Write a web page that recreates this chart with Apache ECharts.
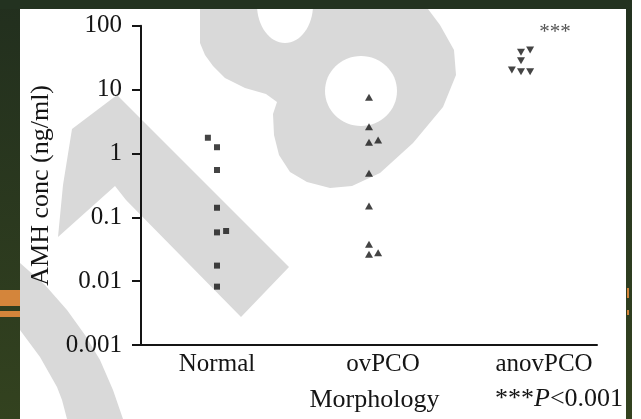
<!DOCTYPE html>
<html><head><meta charset="utf-8">
<script src="https://cdn.jsdelivr.net/npm/echarts@6/dist/echarts.min.js"></script>
<style>html,body{margin:0;padding:0;background:#ffffff}#c{width:641px;height:419px}</style>
</head><body><div id="c"></div>
<script>
// ---- data ----
const categories = ['Normal', 'ovPCO', 'anovPCO'];
const yTickLabels = ['0.001', '0.01', '0.1', '1', '10', '100'];
const normalValues = [1.76, 1.25, 0.55, 0.141, 0.058, 0.061, 0.0175, 0.0082];
const normalJitter = [-1, 0, 0, 0, 0, 1, 0, 0];
const ovpcoValues = [7.6, 2.62, 1.49, 1.62, 0.49, 0.150, 0.0378, 0.0263, 0.0279];
const ovpcoJitter = [0, 0, 0, 1, 0, 0, 0, 0, 1];
const anovpcoValues = [38.3, 41.6, 28.3, 20.2, 19.0, 19.0];
const anovpcoJitter = [0, 1, 0, -1, 0, 1];
const yAxisTitle = 'AMH conc (ng/ml)';
const xAxisTitle = 'Morphology';
const sigMark = '***';
const pNote = ['***', 'P', '<0.001'];

// ---- build ----
const JIT = 0.06;
function pts(catIdx, vals, jit) {
  return vals.map((v, i) => [catIdx + 0.5 + jit[i] * JIT, v]);
}
const serif = '"Liberation Serif", "Times New Roman", serif';
const ink = '#151515';
const wm = '#d9d9d9';

const chart = echarts.init(document.getElementById('c'), null, {renderer: 'canvas'});
chart.setOption({
  animation: false,
  backgroundColor: '#ffffff',
  grid: {left: 141, right: 44, top: 25.7, bottom: 74, containLabel: false, outerBoundsMode: 'none'},
  xAxis: {
    type: 'value', min: 0, max: 3, interval: 0.5,
    axisLine: {show: true, lineStyle: {color: ink, width: 2}},
    axisTick: {show: false},
    splitLine: {show: false},
    axisLabel: {
      margin: 7, showMinLabel: true, showMaxLabel: true,
      fontFamily: serif, fontSize: 25, color: ink,
      formatter: function (v) {
        const i = v - 0.5;
        if (Math.abs(i - Math.round(i)) > 1e-6 || i < 0 || i > 2) return '';
        const k = Math.round(i);
        return '{c' + k + '|' + categories[k] + '}';
      },
      rich: {
        c0: {fontFamily: serif, fontSize: 25, color: ink, padding: [0, 0, 0, 0]},
        c1: {fontFamily: serif, fontSize: 25, color: ink, padding: [0, 0, 0, 28]},
        c2: {fontFamily: serif, fontSize: 25, color: ink, padding: [0, 0, 0, 46]}
      }
    },
    name: xAxisTitle, nameLocation: 'middle', nameGap: 42,
    nameTextStyle: {fontFamily: serif, fontSize: 26, color: ink, padding: [0, 0, 0, 11]}
  },
  yAxis: {
    type: 'log', logBase: 10, min: 0.001, max: 100,
    axisLine: {show: true, lineStyle: {color: ink, width: 2}},
    axisTick: {show: true, inside: false, length: 9, lineStyle: {color: ink, width: 2}},
    splitLine: {show: false},
    minorTick: {show: false},
    axisLabel: {
      margin: 19, fontFamily: serif, fontSize: 25, color: ink,
      formatter: function (v) {
        const k = Math.round(Math.log10(v)) + 3;
        return yTickLabels[k] !== undefined ? yTickLabels[k] : '';
      }
    },
    name: yAxisTitle, nameLocation: 'middle', nameGap: 87, nameRotate: 90,
    nameTextStyle: {fontFamily: serif, fontSize: 26, color: ink}
  },
  series: [
    {type: 'scatter', data: pts(0, normalValues, normalJitter), symbol: 'rect', symbolSize: 6,
     itemStyle: {color: ink}, z: 5},
    {type: 'scatter', data: pts(1, ovpcoValues, ovpcoJitter), symbol: 'triangle', symbolSize: [8, 7],
     itemStyle: {color: ink}, z: 5},
    {type: 'scatter', data: pts(2, anovpcoValues, anovpcoJitter), symbol: 'triangle', symbolSize: [8, 7],
     symbolRotate: 180, itemStyle: {color: ink}, z: 5}
  ],
  graphic: [
    {type: 'rect', z: -30, shape: {x: 0, y: 0, width: 641, height: 419}, style: {fill: '#ffffff'}},
    // watermark "1"
    {type: 'polygon', z: -25, shape: {points: [[117, 95], [289, 267], [241, 317], [126, 200], [115, 186], [58, 237], [63, 185], [72, 129]]}, style: {fill: wm}},
    // watermark "8"
    {type: 'polygon', z: -25, shape: {points: [
      [200, 0], [200, 43], [205, 55], [213, 66], [225, 78], [245, 88], [266, 94], [277, 102],
      [273, 114], [274, 135], [279, 155], [290, 172], [307, 182], [330, 188], [352, 186],
      [380, 173], [413, 143], [443, 107], [456, 75], [454, 50], [440, 25], [425, 5], [415, 0]]},
     style: {fill: wm}},
    {type: 'ellipse', z: -24, shape: {cx: 285, cy: 5, rx: 28, ry: 38}, style: {fill: '#ffffff'}},
    {type: 'ellipse', z: -24, shape: {cx: 361, cy: 91, rx: 36, ry: 35}, style: {fill: '#ffffff'}},
    // lower-left arc
    {type: 'polygon', z: -25, shape: {points: [
      [10, 255], [20, 263], [45, 285], [67, 310], [85, 335], [100, 360], [113, 390], [123, 419],
      [67, 419], [62, 400], [57, 387], [40, 357], [20, 330], [10, 322]]}, style: {fill: wm}},
    // borders
    {type: 'rect', z: -20, shape: {x: 0, y: 0, width: 20, height: 419},
     style: {fill: {type: 'linear', x: 0, y: 0, x2: 0, y2: 1, colorStops: [{offset: 0, color: '#222f1e'}, {offset: 1, color: '#33421f'}]}}},
    {type: 'rect', z: -20, shape: {x: 0, y: 0, width: 632, height: 9}, style: {fill: '#233220'}},
    {type: 'rect', z: -20, shape: {x: 626, y: 0, width: 6, height: 419},
     style: {fill: {type: 'linear', x: 0, y: 0, x2: 0, y2: 1, colorStops: [{offset: 0, color: '#233220'}, {offset: 1, color: '#33421f'}]}}},
    {type: 'rect', z: -19, shape: {x: 0, y: 290, width: 20, height: 16}, style: {fill: '#d4853b'}},
    {type: 'rect', z: -19, shape: {x: 0, y: 311, width: 20, height: 6}, style: {fill: '#d4853b'}},
    {type: 'rect', z: -19, shape: {x: 627, y: 288, width: 2, height: 10}, style: {fill: '#d4853b'}},
    {type: 'rect', z: -19, shape: {x: 627, y: 310, width: 2, height: 5}, style: {fill: '#d4853b'}},
    // annotations
    {type: 'text', z: 10, style: {x: 555, y: 32, text: sigMark, fill: '#555555', font: '21px ' + serif, textAlign: 'center', textVerticalAlign: 'middle'}},
    {type: 'text', z: 10, style: {x: 495, y: 399, textVerticalAlign: 'middle',
      text: '{a|' + pNote[0] + '}{b|' + pNote[1] + '}{a|' + pNote[2] + '}',
      rich: {
        a: {fontFamily: serif, fontSize: 26, fill: ink, color: ink},
        b: {fontFamily: serif, fontSize: 26, fontStyle: 'italic', fill: ink, color: ink}
      }}}
  ]
});
</script>
</body></html>
